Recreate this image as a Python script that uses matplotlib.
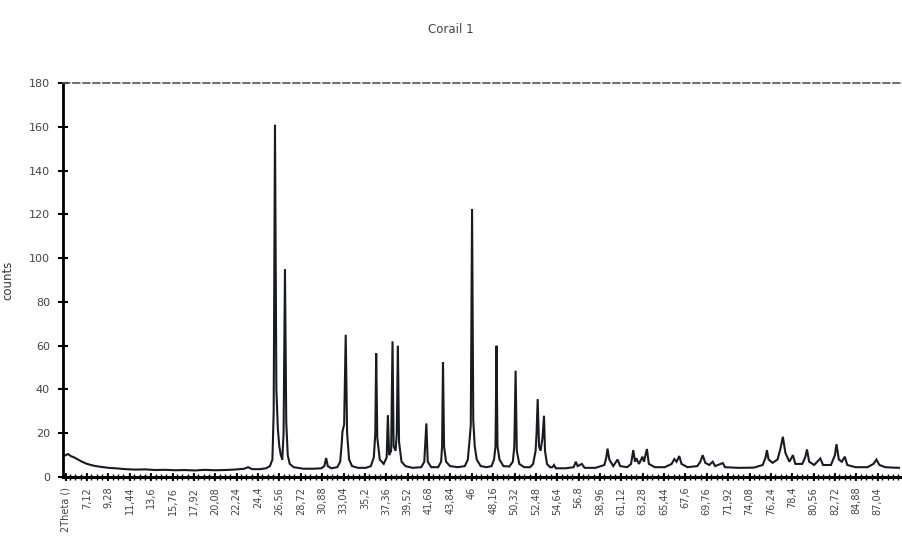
import matplotlib
matplotlib.use("Agg")
import matplotlib.pyplot as plt
from matplotlib.ticker import MultipleLocator

title = "Corail 1"
y_label = "counts"

# 2theta positions (deg) and counts
two_theta = [
    4.96, 5.2, 5.5, 5.8, 6.2, 6.6, 7.0, 7.5, 8.0, 8.6, 9.3, 10.0, 11.0, 12.0, 13.0,
    14.0, 15.0, 16.0, 17.0, 18.0, 19.0, 20.0, 21.0, 22.0, 23.0, 23.4, 23.8, 24.6,
    25.2, 25.6, 25.85, 25.98, 26.11, 26.25, 26.4, 26.55, 26.7, 26.85, 26.98, 27.12,
    27.25, 27.4, 27.6, 28.0, 29.0, 30.0, 30.8, 31.1, 31.28, 31.45, 31.8, 32.4, 32.7,
    32.85, 32.93, 33.1, 33.26, 33.4, 33.6, 33.9, 34.5, 35.3, 35.8, 36.1, 36.25, 36.34,
    36.45, 36.7, 37.1, 37.4, 37.52, 37.65, 37.85, 37.99, 38.1, 38.3, 38.42, 38.53,
    38.65, 38.9, 39.3, 40.0, 40.9, 41.2, 41.41, 41.55, 41.9, 42.6, 42.9, 43.0, 43.09,
    43.2, 43.4, 43.8, 44.6, 45.3, 45.6, 45.8, 45.9, 46.03, 46.15, 46.3, 46.5, 46.9,
    47.5, 48.0, 48.25, 48.4, 48.5, 48.6, 48.8, 49.2, 49.8, 50.15, 50.3, 50.43, 50.55,
    50.8, 51.3, 51.9, 52.2, 52.45, 52.55, 52.66, 52.8, 52.95, 53.15, 53.3, 53.4, 53.6,
    53.9, 54.15, 54.31, 54.5, 55.5, 56.3, 56.51, 56.7, 57.12, 57.4, 58.5, 59.4, 59.6,
    59.72, 59.9, 60.3, 60.73, 61.0, 61.7, 62.1, 62.32, 62.5, 62.63, 62.9, 63.25, 63.4,
    63.70, 63.9, 64.5, 65.5, 66.2, 66.47, 66.7, 66.97, 67.2, 67.8, 68.8, 69.1, 69.34,
    69.6, 70.0, 70.35, 70.6, 71.37, 71.6, 73.0, 74.5, 75.4, 75.7, 75.83, 76.0, 76.4,
    76.9, 77.2, 77.44, 77.7, 78.1, 78.46, 78.7, 79.4, 79.7, 79.88, 80.1, 80.6, 81.23,
    81.5, 82.3, 82.7, 82.86, 83.1, 83.4, 83.70, 83.95, 84.8, 86.0, 86.6, 86.9, 87.2,
    87.8, 88.6, 89.3,
]
counts = [
    10, 10.5, 9.5, 9, 8, 7, 6.2, 5.5, 5, 4.6, 4.2, 4, 3.6, 3.4, 3.5,
    3.2, 3.3, 3.1, 3.2, 3.0, 3.3, 3.1, 3.2, 3.4, 3.8, 4.5, 3.6, 3.6,
    4, 5, 8, 30, 161, 40, 22, 14, 10, 8, 20, 95,
    25, 10, 6, 4.5, 3.8, 3.8, 4, 5, 8.7, 5, 4, 4.5, 7,
    15, 20.7, 24, 65, 20, 8, 5, 4.2, 4.2, 5, 9, 20, 56.5,
    18, 8, 6, 9, 28.3, 10, 12, 62, 14, 12, 20, 60,
    16, 7, 5, 4.2, 4.5, 7, 24.5, 7, 4.5, 4.5, 7, 14, 52.5,
    14, 7, 5, 4.5, 5, 8, 18, 24, 122.5, 26, 14, 8, 5,
    4.5, 5, 8, 14, 60, 14, 8, 5, 4.8, 7, 14, 48.6, 12,
    6, 4.5, 4.5, 6, 12, 20, 35.6, 14, 12, 18, 28, 12, 6,
    4.5, 4.5, 5.5, 4, 4, 4.5, 7, 5, 6, 4.2, 4.2, 5.5, 9,
    13, 8, 5, 8, 5, 4.5, 6, 12.3, 7, 8.6, 6, 9.3, 7,
    12.8, 6, 4.5, 4.5, 6, 8.2, 7, 9.6, 6, 4.5, 5, 7, 10,
    6.5, 5.5, 7, 5, 6.4, 4.5, 4.2, 4.3, 5.5, 9, 12.3, 8, 6.5,
    8, 13, 18.4, 11, 7, 10, 6, 6, 9, 12.6, 7, 5.5, 8.5,
    5.5, 5.5, 10, 15, 8, 7, 9.3, 5.5, 4.5, 4.5, 6, 8, 5.5,
    4.5, 4.3, 4.2,
]

tick_positions = [4.96, 7.12, 9.28, 11.44, 13.6, 15.76, 17.92, 20.08, 22.24, 24.4,
                  26.56, 28.72, 30.88, 33.04, 35.2, 37.36, 39.52, 41.68, 43.84, 46,
                  48.16, 50.32, 52.48, 54.64, 56.8, 58.96, 61.12, 63.28, 65.44, 67.6,
                  69.76, 71.92, 74.08, 76.24, 78.4, 80.56, 82.72, 84.88, 87.04]
tick_labels = ["2Theta ()", "7,12", "9,28", "11,44", "13,6", "15,76", "17,92", "20,08",
               "22,24", "24,4", "26,56", "28,72", "30,88", "33,04", "35,2", "37,36",
               "39,52", "41,68", "43,84", "46", "48,16", "50,32", "52,48", "54,64",
               "56,8", "58,96", "61,12", "63,28", "65,44", "67,6", "69,76", "71,92",
               "74,08", "76,24", "78,4", "80,56", "82,72", "84,88", "87,04"]
y_ticks = [0, 20, 40, 60, 80, 100, 120, 140, 160, 180]

fig = plt.figure(figsize=(9.02, 5.36), dpi=100)
ax = fig.add_axes([0.070, 0.110, 0.928, 0.735])

ax.plot(two_theta, counts, color="#1a1a22", linewidth=1.5, solid_joinstyle="miter")

ax.set_xlim(4.7, 89.3)
ax.set_ylim(0, 180)
ax.set_xticks(tick_positions)
ax.set_xticklabels(tick_labels, rotation=90, fontsize=7, color="#444444")
ax.xaxis.set_minor_locator(MultipleLocator(0.54))
ax.set_yticks(y_ticks)
ax.set_yticklabels([str(v) for v in y_ticks], fontsize=8, color="#444444")
ax.tick_params(axis="y", direction="inout", length=7, width=1.5, pad=6)
ax.tick_params(axis="x", which="major", direction="inout", length=6, width=1.3, pad=4)
ax.tick_params(axis="x", which="minor", direction="inout", length=4, width=1.0)

ax.spines["right"].set_visible(False)
ax.spines["left"].set_linewidth(2.0)
ax.spines["bottom"].set_linewidth(2.2)
ax.spines["top"].set_linewidth(1.2)
ax.spines["top"].set_linestyle((0, (4, 2)))
ax.spines["top"].set_color("#555555")

ax.set_ylabel(y_label, fontsize=8.5, color="#333333")
ax.yaxis.set_label_coords(-0.058, 0.5)
fig.text(0.5, 0.945, title, ha="center", va="center", fontsize=8.5, color="#444444")

fig.savefig("out.png", dpi=100, facecolor="white")
